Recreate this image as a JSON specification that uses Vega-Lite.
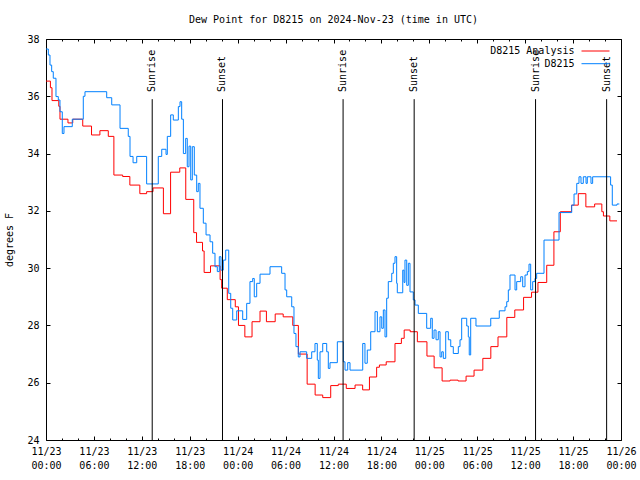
{
  "$schema": "https://vega.github.io/schema/vega-lite/v6.json",
  "width": 575,
  "height": 401,
  "autosize": {"type": "none"},
  "padding": {"left": 46, "top": 39, "right": 19, "bottom": 40},
  "background": "white",
  "title": {"text": "Dew Point for D8215 on 2024-Nov-23 (time in UTC)", "font": "DejaVu Sans Mono", "fontSize": 10, "fontWeight": "normal", "anchor": "middle", "offset": 9, "color": "black"},
  "config": {
    "view": {"stroke": "black", "strokeWidth": 1},
    "axis": {"labelFont": "DejaVu Sans Mono", "labelFontSize": 10, "labelColor": "black", "titleFont": "DejaVu Sans Mono", "titleFontSize": 10, "titleFontWeight": "normal", "titleColor": "black", "grid": false, "domain": false, "tickColor": "black", "tickWidth": 1}
  },
  "datasets": {
    "dew": [
      {"s": "D8215 Analysis", "h": 0, "v": 36.53},
      {"s": "D8215 Analysis", "h": 0.55, "v": 36.3},
      {"s": "D8215 Analysis", "h": 0.75, "v": 35.85},
      {"s": "D8215 Analysis", "h": 1.6, "v": 35.65},
      {"s": "D8215 Analysis", "h": 1.75, "v": 35.2},
      {"s": "D8215 Analysis", "h": 2.75, "v": 35.07},
      {"s": "D8215 Analysis", "h": 3.35, "v": 35.2},
      {"s": "D8215 Analysis", "h": 4.6, "v": 34.96},
      {"s": "D8215 Analysis", "h": 5.7, "v": 34.65},
      {"s": "D8215 Analysis", "h": 6.75, "v": 34.8},
      {"s": "D8215 Analysis", "h": 7.8, "v": 34.6},
      {"s": "D8215 Analysis", "h": 8.5, "v": 33.25},
      {"s": "D8215 Analysis", "h": 9.6, "v": 33.2},
      {"s": "D8215 Analysis", "h": 10.5, "v": 32.9},
      {"s": "D8215 Analysis", "h": 11.75, "v": 32.6},
      {"s": "D8215 Analysis", "h": 12.6, "v": 32.67},
      {"s": "D8215 Analysis", "h": 13.4, "v": 32.8},
      {"s": "D8215 Analysis", "h": 14.7, "v": 31.9},
      {"s": "D8215 Analysis", "h": 15.6, "v": 33.35},
      {"s": "D8215 Analysis", "h": 16.75, "v": 33.5},
      {"s": "D8215 Analysis", "h": 17.5, "v": 32.4},
      {"s": "D8215 Analysis", "h": 18.5, "v": 31.24},
      {"s": "D8215 Analysis", "h": 18.85, "v": 30.9},
      {"s": "D8215 Analysis", "h": 19.6, "v": 30.6},
      {"s": "D8215 Analysis", "h": 19.8, "v": 29.85},
      {"s": "D8215 Analysis", "h": 20.6, "v": 30.08},
      {"s": "D8215 Analysis", "h": 21.8, "v": 29.6},
      {"s": "D8215 Analysis", "h": 22.0, "v": 29.3},
      {"s": "D8215 Analysis", "h": 22.7, "v": 28.9},
      {"s": "D8215 Analysis", "h": 23.7, "v": 28.65},
      {"s": "D8215 Analysis", "h": 24.1, "v": 28.0},
      {"s": "D8215 Analysis", "h": 24.9, "v": 27.6},
      {"s": "D8215 Analysis", "h": 25.8, "v": 28.13},
      {"s": "D8215 Analysis", "h": 26.8, "v": 28.5},
      {"s": "D8215 Analysis", "h": 27.6, "v": 28.13},
      {"s": "D8215 Analysis", "h": 28.7, "v": 28.4},
      {"s": "D8215 Analysis", "h": 29.7, "v": 28.3},
      {"s": "D8215 Analysis", "h": 30.9, "v": 28.0},
      {"s": "D8215 Analysis", "h": 31.6, "v": 27.0},
      {"s": "D8215 Analysis", "h": 32.7, "v": 25.95},
      {"s": "D8215 Analysis", "h": 33.7, "v": 25.57},
      {"s": "D8215 Analysis", "h": 34.65, "v": 25.48},
      {"s": "D8215 Analysis", "h": 35.65, "v": 25.9},
      {"s": "D8215 Analysis", "h": 36.6, "v": 25.95},
      {"s": "D8215 Analysis", "h": 37.6, "v": 25.8},
      {"s": "D8215 Analysis", "h": 38.7, "v": 25.92},
      {"s": "D8215 Analysis", "h": 39.65, "v": 25.75},
      {"s": "D8215 Analysis", "h": 40.5, "v": 26.2},
      {"s": "D8215 Analysis", "h": 41.4, "v": 26.54},
      {"s": "D8215 Analysis", "h": 41.75, "v": 26.62},
      {"s": "D8215 Analysis", "h": 42.6, "v": 26.73},
      {"s": "D8215 Analysis", "h": 43.7, "v": 27.37},
      {"s": "D8215 Analysis", "h": 44.5, "v": 27.55},
      {"s": "D8215 Analysis", "h": 44.85, "v": 27.84},
      {"s": "D8215 Analysis", "h": 45.6, "v": 27.78},
      {"s": "D8215 Analysis", "h": 46.5, "v": 27.43},
      {"s": "D8215 Analysis", "h": 47.7, "v": 26.93},
      {"s": "D8215 Analysis", "h": 48.6, "v": 26.52},
      {"s": "D8215 Analysis", "h": 49.6, "v": 26.06},
      {"s": "D8215 Analysis", "h": 50.6, "v": 26.09},
      {"s": "D8215 Analysis", "h": 51.6, "v": 26.06},
      {"s": "D8215 Analysis", "h": 52.6, "v": 26.23},
      {"s": "D8215 Analysis", "h": 53.6, "v": 26.44},
      {"s": "D8215 Analysis", "h": 54.7, "v": 26.85},
      {"s": "D8215 Analysis", "h": 55.7, "v": 27.26},
      {"s": "D8215 Analysis", "h": 56.6, "v": 27.6},
      {"s": "D8215 Analysis", "h": 57.7, "v": 28.28},
      {"s": "D8215 Analysis", "h": 58.7, "v": 28.54},
      {"s": "D8215 Analysis", "h": 59.8, "v": 28.98},
      {"s": "D8215 Analysis", "h": 60.8, "v": 29.16},
      {"s": "D8215 Analysis", "h": 61.6, "v": 29.5},
      {"s": "D8215 Analysis", "h": 62.7, "v": 30.1},
      {"s": "D8215 Analysis", "h": 63.6, "v": 31.27},
      {"s": "D8215 Analysis", "h": 64.4, "v": 31.97},
      {"s": "D8215 Analysis", "h": 65.8, "v": 32.2},
      {"s": "D8215 Analysis", "h": 66.65, "v": 32.6},
      {"s": "D8215 Analysis", "h": 67.6, "v": 32.14},
      {"s": "D8215 Analysis", "h": 68.7, "v": 32.24},
      {"s": "D8215 Analysis", "h": 69.6, "v": 31.97},
      {"s": "D8215 Analysis", "h": 69.8, "v": 31.82},
      {"s": "D8215 Analysis", "h": 70.6, "v": 31.65},
      {"s": "D8215 Analysis", "h": 71.5, "v": 31.65},
      {"s": "D8215", "h": 0, "v": 37.65},
      {"s": "D8215", "h": 0.29, "v": 37.44},
      {"s": "D8215", "h": 0.5, "v": 37.09},
      {"s": "D8215", "h": 0.71, "v": 36.86},
      {"s": "D8215", "h": 0.91, "v": 36.63},
      {"s": "D8215", "h": 1.25, "v": 35.99},
      {"s": "D8215", "h": 1.54, "v": 35.87},
      {"s": "D8215", "h": 1.75, "v": 35.46},
      {"s": "D8215", "h": 2.04, "v": 34.7},
      {"s": "D8215", "h": 2.25, "v": 34.94},
      {"s": "D8215", "h": 3.29, "v": 35.2},
      {"s": "D8215", "h": 4.67, "v": 36.0},
      {"s": "D8215", "h": 4.88, "v": 36.16},
      {"s": "D8215", "h": 7.6, "v": 35.95},
      {"s": "D8215", "h": 8.23, "v": 35.7},
      {"s": "D8215", "h": 9.27, "v": 34.88},
      {"s": "D8215", "h": 10.3, "v": 34.6},
      {"s": "D8215", "h": 10.52, "v": 33.9},
      {"s": "D8215", "h": 10.9, "v": 33.68},
      {"s": "D8215", "h": 11.36, "v": 33.9},
      {"s": "D8215", "h": 12.6, "v": 32.94},
      {"s": "D8215", "h": 14.06, "v": 33.9},
      {"s": "D8215", "h": 14.49, "v": 34.15},
      {"s": "D8215", "h": 15.03, "v": 33.97},
      {"s": "D8215", "h": 15.19, "v": 34.6},
      {"s": "D8215", "h": 15.61, "v": 35.35},
      {"s": "D8215", "h": 15.94, "v": 35.17},
      {"s": "D8215", "h": 16.57, "v": 35.64},
      {"s": "D8215", "h": 16.78, "v": 35.81},
      {"s": "D8215", "h": 16.99, "v": 35.2},
      {"s": "D8215", "h": 17.2, "v": 34.0},
      {"s": "D8215", "h": 17.49, "v": 34.53},
      {"s": "D8215", "h": 17.69, "v": 33.54},
      {"s": "D8215", "h": 17.91, "v": 34.26},
      {"s": "D8215", "h": 18.12, "v": 33.08},
      {"s": "D8215", "h": 18.32, "v": 34.24},
      {"s": "D8215", "h": 18.57, "v": 33.25},
      {"s": "D8215", "h": 18.87, "v": 32.67},
      {"s": "D8215", "h": 19.07, "v": 32.96},
      {"s": "D8215", "h": 19.28, "v": 32.09},
      {"s": "D8215", "h": 19.7, "v": 31.57},
      {"s": "D8215", "h": 20.04, "v": 31.16},
      {"s": "D8215", "h": 20.54, "v": 30.92},
      {"s": "D8215", "h": 20.87, "v": 30.52},
      {"s": "D8215", "h": 21.16, "v": 30.05},
      {"s": "D8215", "h": 21.45, "v": 29.88},
      {"s": "D8215", "h": 21.7, "v": 30.4},
      {"s": "D8215", "h": 21.91, "v": 29.93},
      {"s": "D8215", "h": 22.2, "v": 30.28},
      {"s": "D8215", "h": 22.5, "v": 30.63},
      {"s": "D8215", "h": 22.88, "v": 29.12},
      {"s": "D8215", "h": 23.13, "v": 28.6},
      {"s": "D8215", "h": 23.38, "v": 28.19},
      {"s": "D8215", "h": 23.88, "v": 28.51},
      {"s": "D8215", "h": 24.63, "v": 28.21},
      {"s": "D8215", "h": 25.13, "v": 28.77},
      {"s": "D8215", "h": 25.54, "v": 29.53},
      {"s": "D8215", "h": 25.88, "v": 29.64},
      {"s": "D8215", "h": 26.08, "v": 29.0},
      {"s": "D8215", "h": 26.38, "v": 29.47},
      {"s": "D8215", "h": 26.8, "v": 29.79},
      {"s": "D8215", "h": 28.05, "v": 30.05},
      {"s": "D8215", "h": 29.51, "v": 29.82},
      {"s": "D8215", "h": 29.93, "v": 29.24},
      {"s": "D8215", "h": 30.14, "v": 29.0},
      {"s": "D8215", "h": 30.77, "v": 28.65},
      {"s": "D8215", "h": 31.05, "v": 27.72},
      {"s": "D8215", "h": 31.3, "v": 27.26},
      {"s": "D8215", "h": 31.59, "v": 26.9},
      {"s": "D8215", "h": 31.81, "v": 27.08},
      {"s": "D8215", "h": 32.64, "v": 26.85},
      {"s": "D8215", "h": 33.27, "v": 27.08},
      {"s": "D8215", "h": 33.68, "v": 27.37},
      {"s": "D8215", "h": 33.97, "v": 26.79},
      {"s": "D8215", "h": 34.1, "v": 26.15},
      {"s": "D8215", "h": 34.31, "v": 27.08},
      {"s": "D8215", "h": 34.65, "v": 27.37},
      {"s": "D8215", "h": 35.15, "v": 27.08},
      {"s": "D8215", "h": 35.35, "v": 26.5},
      {"s": "D8215", "h": 35.56, "v": 26.7},
      {"s": "D8215", "h": 36.48, "v": 27.43},
      {"s": "D8215", "h": 37.23, "v": 26.73},
      {"s": "D8215", "h": 37.44, "v": 26.44},
      {"s": "D8215", "h": 37.78, "v": 26.7},
      {"s": "D8215", "h": 38.07, "v": 26.44},
      {"s": "D8215", "h": 39.66, "v": 27.37},
      {"s": "D8215", "h": 39.94, "v": 26.68},
      {"s": "D8215", "h": 40.23, "v": 27.14},
      {"s": "D8215", "h": 40.66, "v": 27.78},
      {"s": "D8215", "h": 41.2, "v": 28.48},
      {"s": "D8215", "h": 41.49, "v": 27.78},
      {"s": "D8215", "h": 41.82, "v": 28.3},
      {"s": "D8215", "h": 42.04, "v": 27.9},
      {"s": "D8215", "h": 42.24, "v": 28.54},
      {"s": "D8215", "h": 42.45, "v": 27.6},
      {"s": "D8215", "h": 42.66, "v": 28.95},
      {"s": "D8215", "h": 42.86, "v": 29.53},
      {"s": "D8215", "h": 43.29, "v": 29.82},
      {"s": "D8215", "h": 43.49, "v": 30.17},
      {"s": "D8215", "h": 43.7, "v": 30.4},
      {"s": "D8215", "h": 43.91, "v": 29.47},
      {"s": "D8215", "h": 43.99, "v": 29.14},
      {"s": "D8215", "h": 44.67, "v": 29.93},
      {"s": "D8215", "h": 44.83, "v": 29.5},
      {"s": "D8215", "h": 44.95, "v": 30.28},
      {"s": "D8215", "h": 45.17, "v": 29.4},
      {"s": "D8215", "h": 45.37, "v": 30.17},
      {"s": "D8215", "h": 45.58, "v": 29.17},
      {"s": "D8215", "h": 45.99, "v": 28.89},
      {"s": "D8215", "h": 46.21, "v": 28.71},
      {"s": "D8215", "h": 46.62, "v": 28.42},
      {"s": "D8215", "h": 47.67, "v": 27.9},
      {"s": "D8215", "h": 48.17, "v": 28.25},
      {"s": "D8215", "h": 48.37, "v": 27.55},
      {"s": "D8215", "h": 48.59, "v": 27.84},
      {"s": "D8215", "h": 48.84, "v": 27.5},
      {"s": "D8215", "h": 49.12, "v": 27.78},
      {"s": "D8215", "h": 49.34, "v": 26.9},
      {"s": "D8215", "h": 49.55, "v": 27.08},
      {"s": "D8215", "h": 49.75, "v": 26.85},
      {"s": "D8215", "h": 50.05, "v": 27.78},
      {"s": "D8215", "h": 50.38, "v": 27.5},
      {"s": "D8215", "h": 50.68, "v": 27.26},
      {"s": "D8215", "h": 51.0, "v": 27.02},
      {"s": "D8215", "h": 51.63, "v": 27.26},
      {"s": "D8215", "h": 51.84, "v": 27.5},
      {"s": "D8215", "h": 52.05, "v": 28.25},
      {"s": "D8215", "h": 52.68, "v": 27.98},
      {"s": "D8215", "h": 52.88, "v": 27.6},
      {"s": "D8215", "h": 53.0, "v": 26.97},
      {"s": "D8215", "h": 53.18, "v": 28.25},
      {"s": "D8215", "h": 53.84, "v": 27.98},
      {"s": "D8215", "h": 55.69, "v": 28.25},
      {"s": "D8215", "h": 56.76, "v": 28.51},
      {"s": "D8215", "h": 57.48, "v": 28.65},
      {"s": "D8215", "h": 57.69, "v": 28.83},
      {"s": "D8215", "h": 57.89, "v": 29.24},
      {"s": "D8215", "h": 58.1, "v": 29.76},
      {"s": "D8215", "h": 58.73, "v": 29.24},
      {"s": "D8215", "h": 58.94, "v": 29.53},
      {"s": "D8215", "h": 59.44, "v": 29.7},
      {"s": "D8215", "h": 59.69, "v": 29.35},
      {"s": "D8215", "h": 59.98, "v": 29.76},
      {"s": "D8215", "h": 60.27, "v": 29.88},
      {"s": "D8215", "h": 60.48, "v": 30.14},
      {"s": "D8215", "h": 60.69, "v": 29.24},
      {"s": "D8215", "h": 60.94, "v": 29.53},
      {"s": "D8215", "h": 61.23, "v": 29.64},
      {"s": "D8215", "h": 61.44, "v": 29.82},
      {"s": "D8215", "h": 62.36, "v": 30.98},
      {"s": "D8215", "h": 64.24, "v": 31.94},
      {"s": "D8215", "h": 65.83, "v": 32.2},
      {"s": "D8215", "h": 66.12, "v": 32.59},
      {"s": "D8215", "h": 66.46, "v": 32.96},
      {"s": "D8215", "h": 66.74, "v": 33.19},
      {"s": "D8215", "h": 66.99, "v": 32.96},
      {"s": "D8215", "h": 67.28, "v": 33.19},
      {"s": "D8215", "h": 67.62, "v": 32.96},
      {"s": "D8215", "h": 67.78, "v": 33.19},
      {"s": "D8215", "h": 68.24, "v": 32.96},
      {"s": "D8215", "h": 68.45, "v": 33.19},
      {"s": "D8215", "h": 70.7, "v": 32.9},
      {"s": "D8215", "h": 70.91, "v": 32.2},
      {"s": "D8215", "h": 71.5, "v": 32.24},
      {"s": "D8215", "h": 71.79, "v": 32.24}
    ],
    "sun": [
      {"h": 13.3, "label": "Sunrise"},
      {"h": 22.1, "label": "Sunset"},
      {"h": 37.2, "label": "Sunrise"},
      {"h": 46.1, "label": "Sunset"},
      {"h": 61.3, "label": "Sunrise"},
      {"h": 70.2, "label": "Sunset"}
    ]
  },
  "layer": [
    {
      "data": {"name": "dew"},
      "mark": {"type": "line", "interpolate": "step-after", "strokeWidth": 1},
      "encoding": {
        "x": {"field": "h", "type": "quantitative", "scale": {"domain": [0, 72], "nice": false, "zero": false},
              "axis": {"orient": "bottom", "values": [0, 6, 12, 18, 24, 30, 36, 42, 48, 54, 60, 66, 72], "tickSize": -4, "labelPadding": 10, "labelBaseline": "top", "labelLineHeight": 14, "labelFlush": false, "labelOverlap": false, "title": null,
                       "labelExpr": "['11/' + (23 + floor(datum.value / 24)), (datum.value % 24 < 10 ? '0' : '') + (datum.value % 24) + ':00']"}},
        "y": {"field": "v", "type": "quantitative", "scale": {"domain": [24, 38], "nice": false, "zero": false},
              "axis": {"orient": "left", "values": [24, 26, 28, 30, 32, 34, 36, 38], "tickSize": -4, "labelPadding": 11, "title": "degrees F", "titlePadding": 12}},
        "color": {"field": "s", "type": "nominal", "sort": ["D8215 Analysis", "D8215"],
                  "scale": {"domain": ["D8215 Analysis", "D8215"], "range": ["#ff0000", "#0080ff"]},
                  "legend": {"title": null, "orient": "none", "legendX": 544.5, "legendY": 7, "symbolType": "M-4,0H4", "symbolSize": 49, "symbolStrokeWidth": 1, "labelAlign": "right", "labelOffset": -26, "labelFont": "DejaVu Sans Mono", "labelFontSize": 10, "labelColor": "black", "rowPadding": 2.7}}
      }
    },
    {
      "data": {"name": "sun"},
      "mark": {"type": "rule", "color": "black", "strokeWidth": 1},
      "encoding": {
        "x": {"field": "h", "type": "quantitative", "axis": {"orient": "top", "values": [0, 6, 12, 18, 24, 30, 36, 42, 48, 54, 60, 66, 72], "tickSize": -4, "labels": false, "title": null}},
        "y": {"datum": 35.9, "axis": {"orient": "right", "values": [24, 26, 28, 30, 32, 34, 36, 38], "tickSize": -4, "labels": false, "title": null}},
        "y2": {"datum": 24}
      }
    },
    {
      "data": {"name": "sun"},
      "transform": [{"filter": "datum.label == 'Sunrise'"}],
      "mark": {"type": "text", "angle": 270, "align": "left", "baseline": "middle", "font": "DejaVu Sans Mono", "fontSize": 10, "color": "black"},
      "encoding": {
        "x": {"field": "h", "type": "quantitative", "axis": {"orient": "bottom", "values": [2, 4, 8, 10, 14, 16, 20, 22, 26, 28, 32, 34, 38, 40, 44, 46, 50, 52, 56, 58, 62, 64, 68, 70], "tickSize": -2, "labels": false, "title": null}},
        "y": {"datum": 36.15, "axis": null},
        "text": {"field": "label"}
      }
    },
    {
      "data": {"name": "sun"},
      "transform": [{"filter": "datum.label == 'Sunset'"}],
      "mark": {"type": "text", "angle": 270, "align": "left", "baseline": "middle", "font": "DejaVu Sans Mono", "fontSize": 10, "color": "black"},
      "encoding": {
        "x": {"field": "h", "type": "quantitative", "axis": {"orient": "top", "values": [2, 4, 8, 10, 14, 16, 20, 22, 26, 28, 32, 34, 38, 40, 44, 46, 50, 52, 56, 58, 62, 64, 68, 70], "tickSize": -2, "labels": false, "title": null}},
        "y": {"datum": 36.15, "axis": null},
        "text": {"field": "label"}
      }
    }
  ],
  "resolve": {"axis": {"x": "independent", "y": "independent"}}
}
